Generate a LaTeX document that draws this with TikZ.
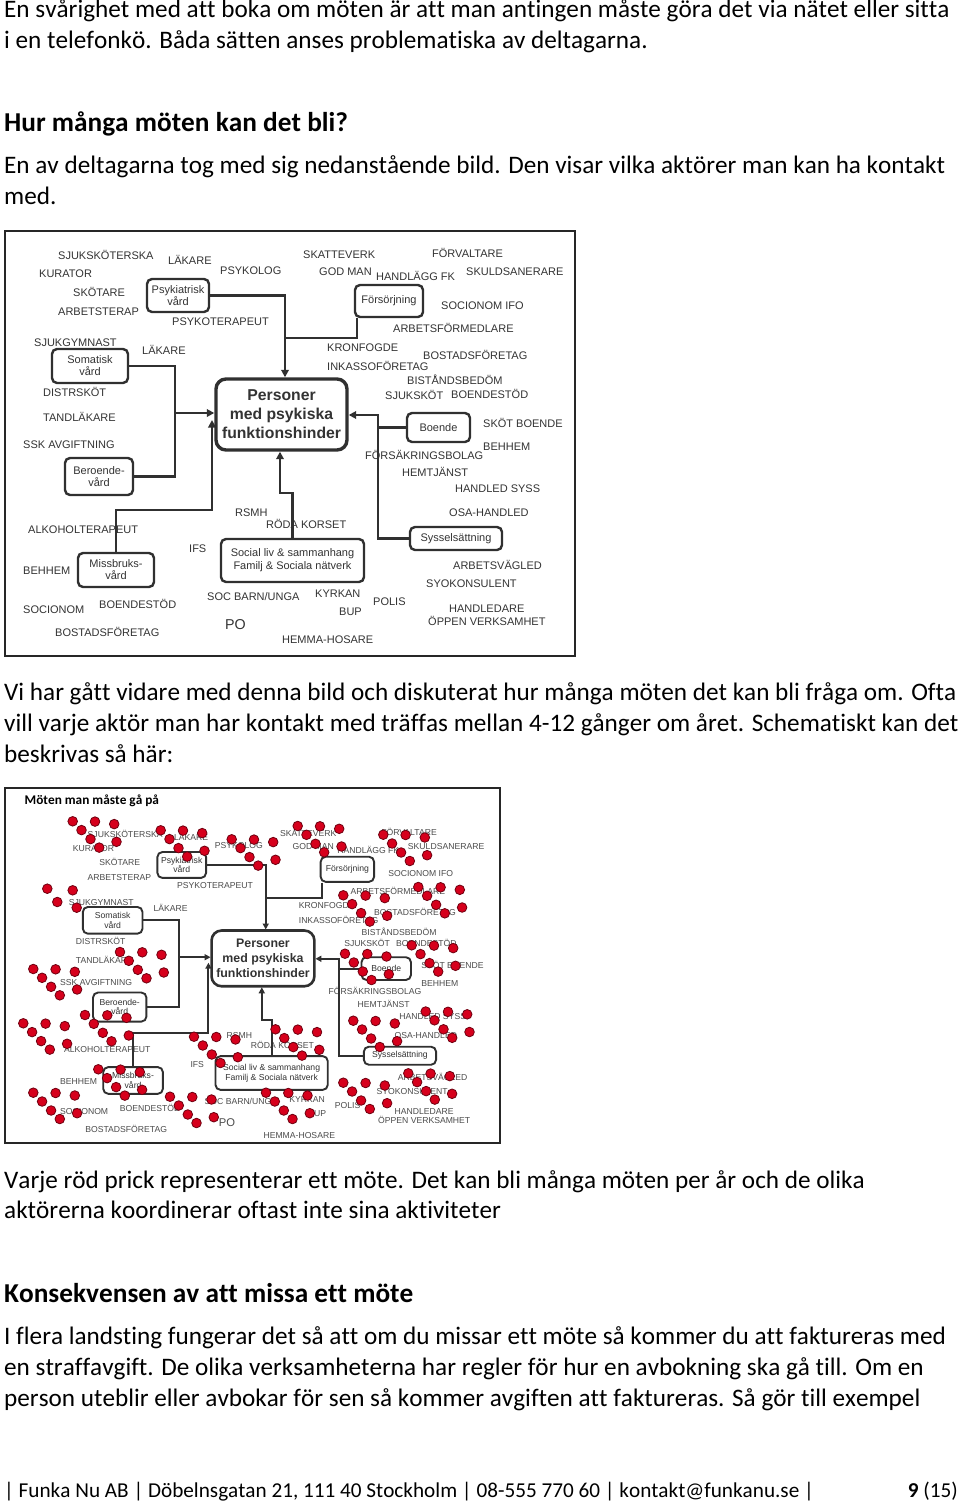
\documentclass[tikz,border=0pt]{standalone}
\usepackage{fontspec}
\setmainfont{Carlito}[Ligatures={NoCommon}, Kerning=Off]
\newfontfamily\arialf{Liberation Sans}
\usetikzlibrary{arrows.meta}
\definecolor{ink}{HTML}{303030}
\definecolor{labgray}{HTML}{333333}
\definecolor{dotred}{HTML}{D6001C}
\definecolor{dotedge}{HTML}{6E0010}

\newcommand\dlab[4]{\node[lab] (#1) at (#2,#3) {#4};}
\newcommand\dotgrp[3]{%
  \begin{scope}[shift={(#2,#3)}]
    \node[rdot] (#1a) at (0,0) {};
    \node[rdot] (#1b) at (22.3,0.3) {};
    \node[rdot] (#1c) at (41.5,2.8) {};
    \node[rdot] (#1d) at (8.8,8.8) {};
    \node[rdot] (#1e) at (17.8,17.8) {};
    \node[rdot] (#1f) at (43.8,20.5) {};
    \node[rdot] (#1g) at (26.5,26.3) {};
  \end{scope}}

\newcommand\diagcontent{%
  % labels
  \dlab{sjukskoterska}{58}{256}{SJUKSKÖTERSKA}
  \dlab{lakare}{168}{261}{LÄKARE}
  \dlab{psykolog}{220}{270.5}{PSYKOLOG}
  \dlab{kurator}{39}{274}{KURATOR}
  \dlab{skotare}{73}{292.5}{SKÖTARE}
  \dlab{arbetsterap}{58}{311.5}{ARBETSTERAP}
  \dlab{psykoterapeut}{172}{321.5}{PSYKOTERAPEUT}
  \dlab{sjukgymnast}{34}{343}{SJUKGYMNAST}
  \dlab{lakareb}{142}{350.5}{LÄKARE}
  \dlab{distrskot}{43}{393}{DISTRSKÖT}
  \dlab{tandlakare}{43}{417.5}{TANDLÄKARE}
  \dlab{ssk}{23}{445}{SSK AVGIFTNING}
  \dlab{alkohol}{28}{530}{ALKOHOLTERAPEUT}
  \dlab{ifs}{189}{549}{IFS}
  \dlab{behhem}{23}{571}{BEHHEM}
  \dlab{socionom}{23}{610}{SOCIONOM}
  \dlab{boendestod}{99}{605}{BOENDESTÖD}
  \dlab{bostad}{55}{632.5}{BOSTADSFÖRETAG}
  \dlab{rsmh}{235}{512.5}{RSMH}
  \dlab{roda}{266}{525}{RÖDA KORSET}
  \dlab{socbarn}{207}{597}{SOC BARN/UNGA}
  \node[lab, font=\arialf\fontsize{14.3}{16}\selectfont, text height=10.3pt] (po) at (225,624) {PO};
  \dlab{hemma}{282}{640}{HEMMA-HOSARE}
  \dlab{kyrkan}{315}{594}{KYRKAN}
  \dlab{bup}{339}{612}{BUP}
  \dlab{polis}{373}{602}{POLIS}
  \dlab{skatteverk}{303}{255}{SKATTEVERK}
  \dlab{forvaltare}{432}{254}{FÖRVALTARE}
  \dlab{godman}{319}{271.5}{GOD MAN}
  \dlab{handlagg}{376}{276.5}{HANDLÄGG FK}
  \dlab{skuld}{466}{272}{SKULDSANERARE}
  \dlab{socifo}{441}{306}{SOCIONOM IFO}
  \dlab{arbetsform}{393}{329}{ARBETSFÖRMEDLARE}
  \dlab{kronfogde}{327}{347.5}{KRONFOGDE}
  \dlab{bostadb}{423}{356}{BOSTADSFÖRETAG}
  \dlab{inkasso}{327}{366.5}{INKASSOFÖRETAG}
  \dlab{bistand}{407}{381}{BISTÅNDSBEDÖM}
  \dlab{sjukskot}{385}{395.5}{SJUKSKÖT}
  \dlab{boendestodb}{451}{395}{BOENDESTÖD}
  \dlab{sktboende}{483}{424}{SKÖT BOENDE}
  \dlab{behhemb}{483}{446.5}{BEHHEM}
  \dlab{forsakring}{365}{456}{FÖRSÄKRINGSBOLAG}
  \dlab{hemtjanst}{402}{473}{HEMTJÄNST}
  \dlab{handledsyss}{455}{489}{HANDLED SYSS}
  \dlab{osa}{449}{513}{OSA-HANDLED}
  \dlab{arbetsvag}{453}{566}{ARBETSVÄGLED}
  \dlab{syo}{426}{584}{SYOKONSULENT}
  \dlab{handledare}{449}{609}{HANDLEDARE}
  \dlab{oppen}{428}{621.5}{ÖPPEN VERKSAMHET}
  % boxes
  \node[box, minimum width=62pt, minimum height=33pt] (psyk) at (178,295.5) {Psykiatrisk\\vård};
  \node[box, minimum width=76pt, minimum height=34pt] (soma) at (90,366) {Somatisk\\vård};
  \node[box, minimum width=68pt, minimum height=37pt] (bero) at (99,476.5) {Beroende-\\vård};
  \node[box, minimum width=76pt, minimum height=34pt] (miss) at (116,570) {Missbruks-\\vård};
  \node[box, minimum width=143pt, minimum height=43pt, font=\arialf\fontsize{11}{13}\selectfont] (soc) at (292.5,560.5) {Social liv \& sammanhang\\Familj \& Sociala nätverk};
  \node[box, minimum width=68pt, minimum height=32pt] (fors) at (389,301) {Försörjning};
  \node[box, minimum width=63pt, minimum height=29pt] (boende) at (438.5,427.5) {Boende};
  \node[box, minimum width=92pt, minimum height=23pt] (syss) at (456,538.5) {Sysselsättning};
  \node[pbox, minimum width=131pt, minimum height=71pt] (pers) at (281.5,414.5) {Personer\\med psykiska\\funktionshinder};
  % bend points
  \coordinate (c1) at (285,296);
  \coordinate (c2) at (357,338);
  \coordinate (c3) at (175,413);
  \coordinate (c5) at (212,510);
  \coordinate (c6) at (212,420);
  \coordinate (c7) at (280,493);
  \coordinate (c8) at (378,415);
  % connectors
  \draw[conn, arr] (psyk.east) -- (psyk.east -| c1) -- (c1 |- pers.north);
  \draw[conn] (c2 |- fors.south) -- (c2) -- (c2 -| c1);
  \draw[conn, arr] (soma.east) -| (c3) -- (c3 -| pers.west);
  \draw[conn] (bero.east) -| (c3);
  \draw[conn, arr] (miss.north) |- (c5) -- (c6);
  \draw[conn, arr] (soc.north) -- (soc.north |- c7) -- (c7) -- (c7 |- pers.south);
  \draw[conn, arr] (syss.west) -| (c8) -- (c8 -| pers.east);
  \draw[conn] (boende.west) -- (boende.west -| c8);
}

\begin{document}
\begin{tikzpicture}[x=1pt, y=-1pt,
  body/.style={anchor=base west, inner sep=0pt, font=\fontsize{25.2}{31}\selectfont},
  head/.style={anchor=base west, inner sep=0pt, font=\bfseries\fontsize{27.3}{33}\selectfont},
  foot/.style={inner sep=0pt, font=\fontsize{21.2}{25}\selectfont},
  lab/.style={anchor=west, inner sep=0pt, text height=7.9pt, text depth=0pt, text=labgray,
              font=\arialf\fontsize{11}{13}\selectfont},
  box/.style={draw=ink, line width=2.4pt, rounded corners=5pt, inner sep=0pt, align=center,
              text=labgray, font=\arialf\fontsize{11}{12}\selectfont},
  pbox/.style={draw=ink, line width=3.4pt, rounded corners=10pt, inner sep=0pt, align=center,
              text=labgray, font=\arialf\bfseries\fontsize{15.75}{19}\selectfont},
  conn/.style={draw=ink, line width=2.4pt},
  arr/.style={-{Triangle[width=7.5pt,length=7.5pt]}},
  frame/.style={draw=black!85, line width=1.6pt},
  rdot/.style={circle, inner sep=0pt, minimum size=9.6pt, fill=dotred, draw=dotedge, line width=0.8pt},
  ttl/.style={anchor=west, inner sep=0pt, font=\bfseries\fontsize{13.3}{15}\selectfont}
]
\useasboundingbox (0,0) rectangle (960,1503);
\fill[white] (0,0) rectangle (960,1503);

% running text
\node[body] (t1) at (4,18) {En svårighet med att boka om möten är att man antingen måste göra det via nätet eller sitta};
\node[body] (t2) at (4,49) {i en telefonkö. Båda sätten anses problematiska av deltagarna.};
\node[head] (h1) at (4,132) {Hur många möten kan det bli?};
\node[body] (t3) at (4,174) {En av deltagarna tog med sig nedanstående bild. Den visar vilka aktörer man kan ha kontakt};
\node[body] (t4) at (4,205) {med.};
\node[body] (t5) at (4,700) {Vi har gått vidare med denna bild och diskuterat hur många möten det kan bli fråga om. Ofta};
\node[body] (t6) at (4,731) {vill varje aktör man har kontakt med träffas mellan 4-12 gånger om året. Schematiskt kan det};
\node[body] (t7) at (4,762) {beskrivas så här:};
\node[body] (t8) at (4,1188) {Varje röd prick representerar ett möte. Det kan bli många möten per år och de olika};
\node[body] (t9) at (4,1218) {aktörerna koordinerar oftast inte sina aktiviteter};
\node[head] (h2) at (4,1302) {Konsekvensen av att missa ett möte};
\node[body] (t10) at (4,1344) {I flera landsting fungerar det så att om du missar ett möte så kommer du att faktureras med};
\node[body] (t11) at (4,1375) {en straffavgift. De olika verksamheterna har regler för hur en avbokning ska gå till. Om en};
\node[body] (t12) at (4,1406) {person uteblir eller avbokar för sen så kommer avgiften att faktureras. Så gör till exempel};
\node[foot, anchor=base west] (f1) at (4,1497) {| Funka Nu AB | Döbelnsgatan 21, 111 40 Stockholm | 08-555 770 60 | kontakt@funkanu.se |};
\node[foot, anchor=base east] (f2) at (958,1497) {\textbf{9} (15)};

% diagram 1
\draw[frame] (5,231) rectangle (575,656);
\begin{scope}[name prefix=A-]
  \diagcontent
\end{scope}

% diagram 2
\draw[frame, line width=2pt] (5,788) rectangle (500,1143);
\node[ttl] (title2) at (24.5,801) {Möten man måste gå på};
\begin{scope}[shift={(42,633)}, scale=0.785, transform shape, name prefix=B-,
  box/.append style={line width=1.9pt},
  pbox/.append style={line width=2.6pt},
  conn/.append style={line width=1.9pt},
  arr/.style={-{Triangle[width=6pt,length=6pt]}},
  lab/.append style={text=black!70}]
  \diagcontent
\end{scope}

% red dots: one per meeting
\dotgrp{d1}{72.7}{821.3}
\dotgrp{d2}{160.7}{830.3}
\dotgrp{d3}{231.7}{839.3}
\dotgrp{d4}{297.7}{826}
\dotgrp{d5}{383.3}{834.7}
\dotgrp{d6}{343.3}{895.3}
\dotgrp{d7}{418.3}{887}
\dotgrp{d8}{411.7}{945.3}
\dotgrp{d9}{345}{953.7}
\dotgrp{d11}{120}{952}
\dotgrp{d12}{33.3}{969}
\dotgrp{d13}{23.3}{1023.3}
\dotgrp{d14}{85}{1015}
\dotgrp{d15}{98.3}{1069.3}
\dotgrp{d16}{33.3}{1092.7}
\dotgrp{d17}{170}{1096.7}
\dotgrp{d18}{194}{1036.7}
\dotgrp{d19}{275.5}{1029.3}
\dotgrp{d20}{266}{1092.7}
\dotgrp{d21}{343.3}{1082.7}
\dotgrp{d22}{408.3}{1073.3}
\dotgrp{d23}{353.3}{1020.7}
\dotgrp{d24}{425.7}{1011.5}
\node[rdot] (d10a) at (47.3,888.7) {};
\node[rdot] (d10b) at (72.7,890.3) {};
\node[rdot] (d10c) at (57.3,902) {};
\node[rdot] (d10d) at (76.7,907.7) {};
\end{tikzpicture}
\end{document}
